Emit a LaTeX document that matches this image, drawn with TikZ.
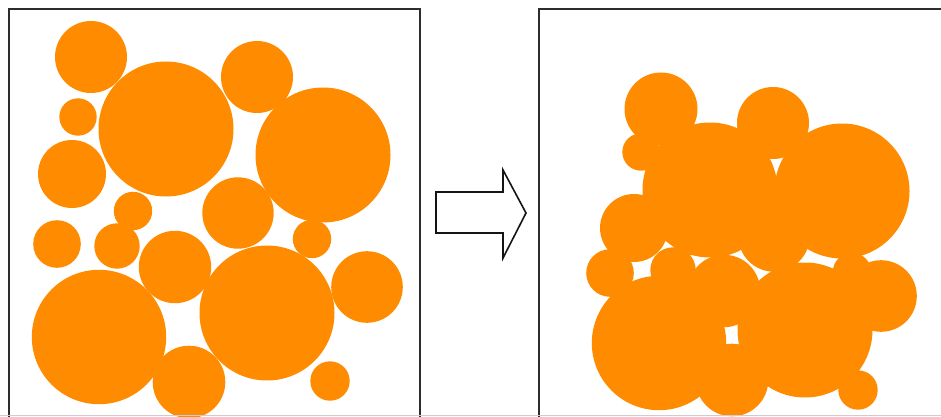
\documentclass[tikz,border=0pt]{standalone}
\begin{document}
\begin{tikzpicture}[x=1pt,y=-1pt,
  ball/.style={fill={rgb,255:red,255;green,140;blue,0}},
  frame/.style={draw={rgb,255:red,45;green,45;blue,45},line width=2pt},
  baseline/.style={draw={rgb,255:red,205;green,205;blue,205},line width=1.5pt},
  bigarrow/.style={draw={rgb,255:red,20;green,20;blue,20},line width=1.6pt,fill=white,line join=miter}]
\useasboundingbox (0,0) rectangle (941,417);
\clip (0,0) rectangle (941,417);
\fill[white] (0,0) rectangle (941,417);
% left box circles
\foreach \x/\y/\r in {91/57/36, 166/129/67.5, 78/117/18.7, 72/174/34, 257/77/36,
  323/155/67.5, 238/213/35.7, 133/211/19.2, 57/244/23.8, 117/246/22.7,
  175/267/36.2, 312/239/19.2, 99/337/67.2, 267/313/67.5, 367/287/35.8,
  189/382/36.3, 330/381/19.7}
  \fill[ball] (\x,\y) circle[radius=\r];
% right box circles (compacted)
\foreach \x/\y/\r in {661/109/36.5, 710/190/67.5, 641/152/18.7, 634/228/34, 773/123/36,
  842/191/67.5, 774/236/35.7, 690/236/19.2, 610/273/23.8, 673/270/22.7,
  724/291/36.2, 852/272/19.2, 659/343/67.2, 805/330/67.5, 881/296/35.8,
  732/380/36.3, 858/390/19.7}
  \fill[ball] (\x,\y) circle[radius=\r];
% frames
\draw[frame] (9,9) rectangle (420,430);
\draw[frame] (539,9) rectangle (960,430);
\draw[baseline] (0,415.5) -- (941,415.5);
% arrow
\draw[bigarrow] (436,192) -- (503,192) -- (503,170) -- (526,213) -- (503,258)
  -- (503,233) -- (436,233) -- cycle;
\end{tikzpicture}
\end{document}
